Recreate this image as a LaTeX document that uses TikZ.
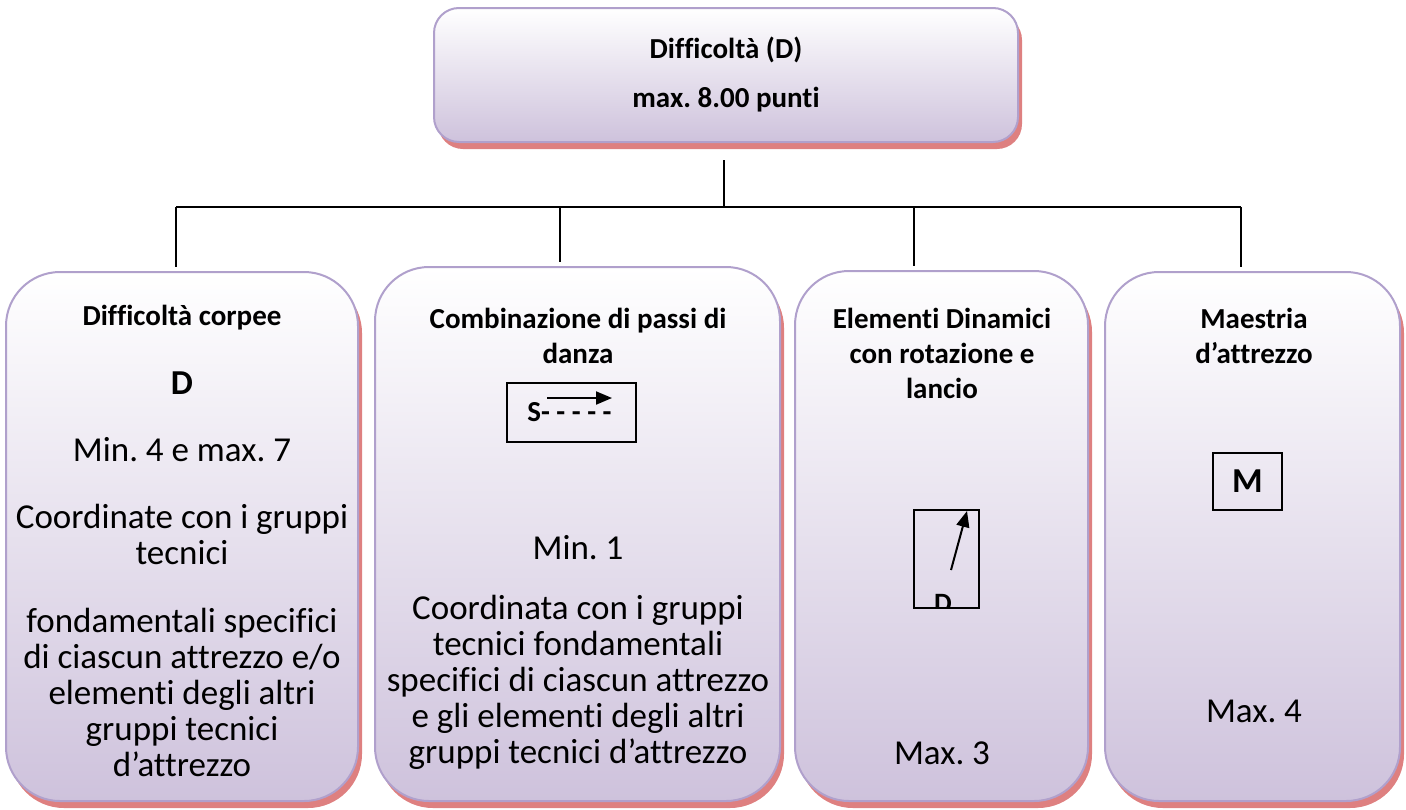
\documentclass[tikz,border=0pt]{standalone}
\usepackage{fontspec}
\setmainfont{Carlito}[Ligatures=NoCommon]
\usetikzlibrary{positioning,arrows.meta,shadows}
\frenchspacing

\definecolor{lavfill}{RGB}{206,194,220}
\definecolor{lavline}{RGB}{176,160,204}
\definecolor{shadered}{RGB}{222,128,128}

\begin{document}
\begin{tikzpicture}[
  x=0.5pt, y=-0.5pt, >=Stealth,
  panel/.style={draw=lavline, line width=1pt, rounded corners=27pt,
    top color=white, bottom color=lavfill, inner sep=0pt,
    general shadow={shadow xshift=2pt, shadow yshift=-3.5pt, fill=shadered}},
  ttl/.style={font=\fontsize{14.5}{17.5}\selectfont\bfseries, align=center, inner sep=0pt},
  txt/.style={font=\fontsize{17.5}{18}\selectfont, align=center, inner sep=0pt},
  sym/.style={draw, line width=0.75pt, inner sep=0pt},
  link/.style={line width=0.75pt},
  tip/.style={-{Triangle[length=8pt,width=6.5pt]}, line width=1pt}
]
\useasboundingbox (0,0) rectangle (1406,809);

% Top box
\node[panel, rounded corners=12.5pt, minimum width=292pt, minimum height=67pt] (head) at (726,75) {};
\node[ttl] (headT) at (726,50) {Difficoltà (D)};
\node[ttl] (headP) at (726,100) {max. 8.00 punti};

% Four columns
\node[panel, minimum width=176pt, minimum height=264.5pt] (corp) at (182,536.5) {};
\node[panel, minimum width=202.5pt, minimum height=267pt] (passi) at (577.5,534) {};
\node[panel, minimum width=146.5pt, minimum height=265pt] (dyn) at (941.5,536) {};
\node[panel, minimum width=147.5pt, minimum height=264.5pt] (maes) at (1252.5,536.5) {};

% Connectors
\coordinate (stub) at (724,160);
\coordinate (hub) at (724,207);
\coordinate (railL) at (176,207);
\coordinate (railR) at (1241,207);
\draw[link] (stub) -- (hub);
\draw[link] (railL) -- (railR);
\foreach \x/\b [count=\i] in {176/corp,560/passi,914/dyn,1241/maes}{
  \coordinate (drop\i) at (\x,207);
  \draw[link, shorten >=2pt] (drop\i) -- (drop\i |- \b.north);
}

% Column 1
\node[ttl] (corpT) at (182,318) {Difficoltà corpee};
\node[font=\fontsize{17.5}{18}\selectfont\bfseries, inner sep=0pt] (corpD) at (182,383) {D};
\node[txt] (corpA) at (182,450) {Min. 4 e max. 7};
\node[txt] (corpB) at (182,534) {Coordinate con i gruppi\\tecnici};
\node[txt] (corpC) at (182,692) {fondamentali specifici\\di ciascun attrezzo e/o\\elementi degli altri\\gruppi tecnici\\d’attrezzo};

% Column 2
\node[ttl] (passiT) at (578,335.5) {Combinazione di passi di\\danza};
\node[sym, minimum width=64.5pt, minimum height=29.5pt] (sbox) at (571.5,412.5) {};
\node[font=\fontsize{14.5}{14.5}\selectfont\bfseries, inner sep=0pt, anchor=base west] (sdash) at (527,421) {S- - - - -};
\coordinate (sTail) at (547,398);
\coordinate (sTip) at (612,398);
\draw[tip] (sTail) -- (sTip);
\node[txt] (passiA) at (578,548) {Min. 1};
\node[txt] (passiB) at (578,682) {Coordinata con i gruppi\\tecnici fondamentali\\specifici di ciascun attrezzo\\e gli elementi degli altri\\gruppi tecnici d’attrezzo};

% Column 3
\node[ttl] (dynT) at (942,353) {Elementi Dinamici\\con rotazione e\\lancio};
\node[sym, minimum width=32.5pt, minimum height=49pt] (dbox) at (946.5,559) {};
\begin{scope}
  \clip (dbox.south west) rectangle (dbox.north east);
  \node[font=\fontsize{14}{14}\selectfont\bfseries, inner sep=0pt, anchor=base] (dmark) at (943,612) {D};
\end{scope}
\coordinate (dTail) at (951,570);
\coordinate (dTip) at (967,511);
\draw[tip] (dTail) -- (dTip);
\node[txt] (dynA) at (942,753) {Max. 3};

% Column 4
\node[ttl] (maesT) at (1254,335.5) {Maestria\\d’attrezzo};
\node[sym, minimum width=34.5pt, minimum height=28.5pt, font=\fontsize{17.5}{18}\selectfont\bfseries] (mbox) at (1247.5,481.5) {M};
\node[txt] (maesA) at (1254,711) {Max. 4};
\end{tikzpicture}
\end{document}
